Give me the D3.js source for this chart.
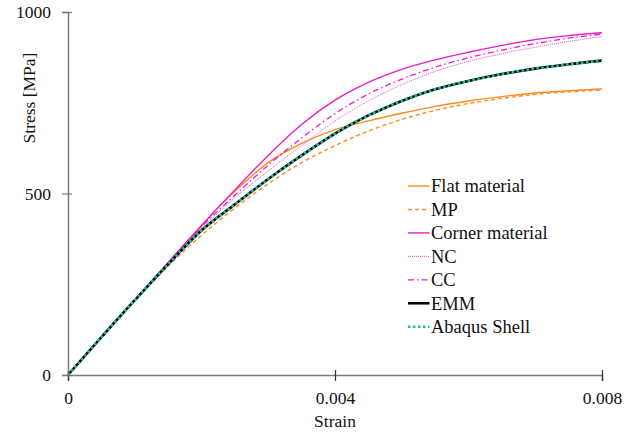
<!DOCTYPE html>
<html>
<head>
<meta charset="utf-8">
<script src="https://cdn.jsdelivr.net/npm/d3@7"></script>
<style>
  html, body { margin: 0; padding: 0; background: #fff; }
  svg { display: block; }
  svg text { font-family: "Liberation Serif", "Times New Roman", serif; }
</style>
</head>
<body>
<svg id="chart" width="637" height="432"></svg>
<script>
// Stress–strain curves: strain [-] vs stress [MPa]
const strainAxisTicks = [0, 0.004, 0.008];
const stressAxisTicks = [0, 500, 1000];

const flatStrain   = [0, 0.001, 0.0015, 0.002, 0.0022, 0.0025, 0.003, 0.0035, 0.004, 0.0045, 0.005, 0.0055, 0.006, 0.0065, 0.007, 0.0075, 0.008];
const flatStress   = [0, 206, 308, 410, 452, 506, 585, 638, 676, 700, 721, 740, 755, 767, 777, 783, 788];

const mpStrain     = [0, 0.001, 0.0015, 0.002, 0.0025, 0.003, 0.0035, 0.004, 0.0045, 0.005, 0.0055, 0.006, 0.0065, 0.007, 0.0075, 0.008];
const mpStress     = [0, 205, 300, 385, 460, 527, 585, 632, 672, 704, 729, 748, 762, 773, 780, 785];

const cornerStrain = [0, 0.001, 0.002, 0.0025, 0.003, 0.0035, 0.004, 0.0045, 0.005, 0.0055, 0.006, 0.0065, 0.007, 0.0075, 0.008];
const cornerStress = [0, 207, 412, 510, 605, 690, 757, 806, 842, 868, 889, 908, 924, 935, 943];

const ncStrain     = [0, 0.001, 0.0015, 0.002, 0.0025, 0.003, 0.0035, 0.004, 0.0045, 0.005, 0.0055, 0.006, 0.0065, 0.007, 0.0075, 0.008];
const ncStress     = [0, 206, 306, 403, 488, 562, 632, 700, 755, 800, 836, 864, 885, 903, 919, 932];

const ccStrain     = [0, 0.001, 0.0015, 0.002, 0.0025, 0.003, 0.0035, 0.004, 0.0045, 0.005, 0.0055, 0.006, 0.0065, 0.007, 0.0075, 0.008];
const ccStress     = [0, 206, 308, 408, 495, 578, 653, 720, 774, 815, 848, 874, 895, 913, 928, 939];

const emmStrain    = [0, 0.001, 0.0015, 0.002, 0.0025, 0.003, 0.0035, 0.004, 0.0045, 0.005, 0.0055, 0.006, 0.0065, 0.007, 0.0075, 0.008];
const emmStress    = [0, 206, 305, 398, 470, 540, 605, 665, 715, 755, 787, 810, 829, 844, 856, 866];

const shellStrain  = [0, 0.001, 0.0015, 0.002, 0.0025, 0.003, 0.0035, 0.004, 0.0045, 0.005, 0.0055, 0.006, 0.0065, 0.007, 0.0075, 0.008];
const shellStress  = [0, 206, 305, 398, 470, 540, 605, 665, 715, 755, 787, 810, 829, 844, 856, 866];

const seriesNames = ["Flat material", "MP", "Corner material", "NC", "CC", "EMM", "Abaqus Shell"];

const series = [
  { name: seriesNames[0], x: flatStrain,   y: flatStress,   color: "#ff8a1f", width: 1.4, dash: null },
  { name: seriesNames[1], x: mpStrain,     y: mpStress,     color: "#ff8a1f", width: 1.4, dash: "4,3" },
  { name: seriesNames[2], x: cornerStrain, y: cornerStress, color: "#e81ecb", width: 1.4, dash: null },
  { name: seriesNames[3], x: ncStrain,     y: ncStress,     color: "#f04ad8", width: 1.0, dash: "1,1" },
  { name: seriesNames[4], x: ccStrain,     y: ccStress,     color: "#e81ecb", width: 1.3, dash: "6,3,1.5,3" },
  { name: seriesNames[5], x: emmStrain,    y: emmStress,    color: "#000000", width: 2.6, dash: null },
  { name: seriesNames[6], x: shellStrain,  y: shellStress,  color: "#1dbfa3", width: 2.6, dash: "2.5,2.5" }
];

const svg = d3.select("#chart");
const margin = { left: 68, right: 35, top: 12, bottom: 57 };
const W = 637, H = 432;
const serif = "Liberation Serif, Times New Roman, serif";

const x = d3.scaleLinear().domain([0, 0.008]).range([margin.left, W - margin.right]);
const y = d3.scaleLinear().domain([0, 1000]).range([H - margin.bottom, margin.top]);

const axisColor = "#7a7a7a";

// X axis
const gx = svg.append("g")
  .attr("transform", `translate(0,${y(0)})`)
  .call(d3.axisBottom(x).tickValues(strainAxisTicks).tickSize(6).tickPadding(11)
    .tickFormat(d => d === 0 ? "0" : d3.format(".3f")(d)))
  .attr("font-family", serif);
gx.select(".domain").attr("stroke", axisColor).attr("stroke-width", 1.5);
gx.selectAll(".tick line").attr("stroke", "#333").attr("stroke-width", 1.2).attr("y1", -5).attr("y2", 6);
gx.selectAll(".tick text").attr("font-size", 17.5).attr("fill", "#111");

// Y axis
const gy = svg.append("g")
  .attr("transform", `translate(${x(0)},0)`)
  .call(d3.axisLeft(y).tickValues(stressAxisTicks).tickSize(6).tickPadding(11).tickFormat(d3.format("d")))
  .attr("font-family", serif);
gy.select(".domain").attr("stroke", axisColor).attr("stroke-width", 1.5);
gy.selectAll(".tick line").attr("stroke", axisColor).attr("stroke-width", 1.2).attr("x1", 4).attr("x2", -6);
gy.selectAll(".tick text").attr("font-size", 17.5).attr("fill", "#111");

// Axis titles
svg.append("text")
  .attr("x", x(0.004)).attr("y", 427)
  .attr("text-anchor", "middle").attr("font-size", 17.5).attr("fill", "#111")
  .text("Strain");
svg.append("text")
  .attr("transform", `translate(35,98) rotate(-90)`)
  .attr("text-anchor", "middle").attr("font-size", 17.5).attr("fill", "#111")
  .text("Stress [MPa]");

// Curves
const line = d3.line().curve(d3.curveMonotoneX);
series.forEach(s => {
  const pts = s.x.map((v, i) => [x(v), y(s.y[i])]);
  svg.append("path")
    .attr("d", line(pts))
    .attr("fill", "none")
    .attr("stroke", s.color)
    .attr("stroke-width", s.width)
    .attr("stroke-dasharray", s.dash)
    .attr("stroke-linejoin", "round");
});

// Legend
const legend = svg.append("g").attr("transform", "translate(408,186)");
series.forEach((s, i) => {
  const g = legend.append("g").attr("transform", `translate(0,${i * 23.45})`);
  g.append("line")
    .attr("x1", 0).attr("x2", 21.5).attr("y1", 0).attr("y2", 0)
    .attr("stroke", s.color)
    .attr("stroke-width", s.name === "EMM" || s.name === "Abaqus Shell" ? 2.6 : s.width)
    .attr("stroke-dasharray", s.dash);
  g.append("text")
    .attr("x", 23).attr("y", 0).attr("dy", "0.35em")
    .attr("font-size", 18.5).attr("fill", "#111")
    .text(s.name);
});
</script>
</body>
</html>
